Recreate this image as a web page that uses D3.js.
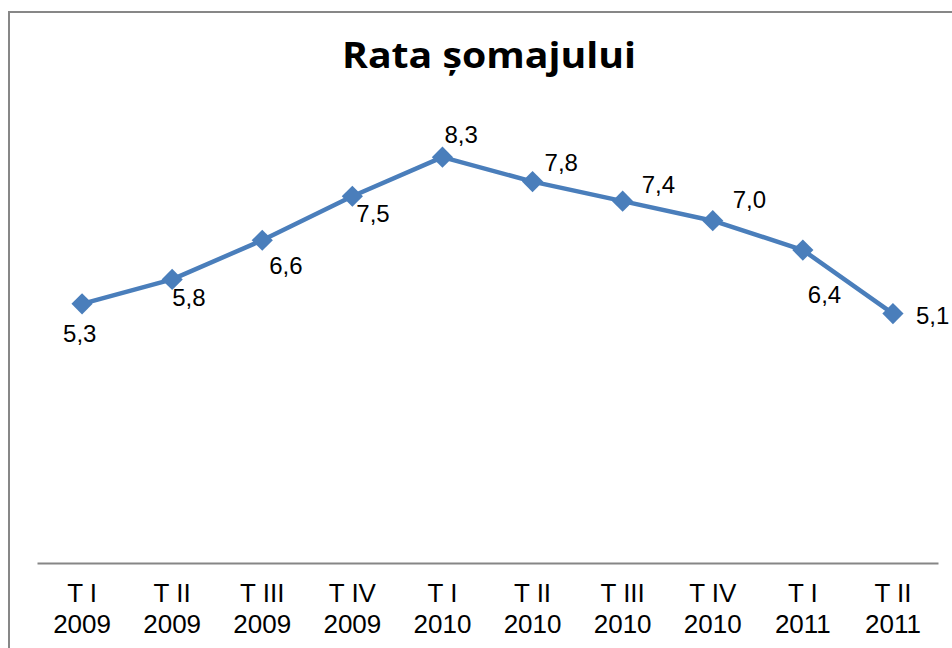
<!DOCTYPE html>
<html>
<head>
<meta charset="utf-8">
<script src="https://cdn.jsdelivr.net/npm/d3@7"></script>
<style>
  body { margin: 0; background: #fff; }
  svg { display: block; }
  .axis text { font-family: "Liberation Sans", Arial, sans-serif; font-size: 26px; fill: #000; }
  .axis .domain { stroke: #868686; stroke-width: 2; }
  .value-label { font-family: "Liberation Sans", Arial, sans-serif; font-size: 24px; fill: #000; }
  .chart-title { font-family: "Open Sans", sans-serif; font-weight: 700; font-size: 35px; fill: #000; }
</style>
</head>
<body>
<svg id="chart"></svg>
<script>
// data
const quarters = ['T I', 'T II', 'T III', 'T IV', 'T I', 'T II', 'T III', 'T IV', 'T I', 'T II'];
const years = ['2009', '2009', '2009', '2009', '2010', '2010', '2010', '2010', '2011', '2011'];
const rates = [5.3, 5.8, 6.6, 7.5, 8.3, 7.8, 7.4, 7.0, 6.4, 5.1];

// where each value label sits relative to its point (left edge, baseline)
const labelOffsets = [[-19, 38], [0, 27], [7, 34], [4, 26], [2, -14], [12, -11], [19, -8], [20, -13], [5, 53], [23, 10]];

const width = 952, height = 648;
const margin = {left: 37, right: 14, top: 74, bottom: 85};

const svg = d3.select('#chart')
    .attr('width', width)
    .attr('height', height);

// chart frame (runs off the right and bottom edge)
svg.append('rect')
    .attr('x', 9)
    .attr('y', 12)
    .attr('width', width + 20)
    .attr('height', height + 20)
    .attr('fill', 'none')
    .attr('stroke', '#878787')
    .attr('stroke-width', 2);

const keys = d3.range(rates.length);

const xScale = d3.scaleBand()
    .domain(keys)
    .range([margin.left, width - margin.right]);

const yScale = d3.scaleLinear()
    .domain([0, 10])
    .range([height - margin.bottom, margin.top]);

const xPos = i => xScale(i) + xScale.bandwidth() / 2;

// x axis with two-line labels
const xAxis = d3.axisBottom(xScale)
    .tickSize(0)
    .tickSizeOuter(0)
    .tickFormat(() => '');

const xAxisG = svg.append('g')
    .attr('class', 'axis x-axis')
    .attr('transform', `translate(0,${height - margin.bottom})`)
    .call(xAxis);

xAxisG.selectAll('.tick text').each(function(i) {
    const t = d3.select(this).attr('y', 0).attr('dy', null);
    t.append('tspan').attr('x', 0).attr('y', 39).text(quarters[i]);
    t.append('tspan').attr('x', 0).attr('y', 70).text(years[i]);
});

// title
svg.append('text')
    .attr('class', 'chart-title')
    .attr('x', 489)
    .attr('y', 68)
    .attr('text-anchor', 'middle')
    .attr('textLength', 294)
    .attr('lengthAdjust', 'spacingAndGlyphs')
    .text('Rata șomajului');

// line
const line = d3.line()
    .x((d, i) => xPos(i))
    .y(d => yScale(d));

svg.append('path')
    .datum(rates)
    .attr('fill', 'none')
    .attr('stroke', '#4A7EBB')
    .attr('stroke-width', 4.5)
    .attr('stroke-linejoin', 'round')
    .attr('d', line);

// diamond markers
const diamond = d3.symbol(d3.symbolSquare, 225);
svg.selectAll('.marker')
    .data(rates)
    .join('path')
    .attr('class', 'marker')
    .attr('d', diamond)
    .attr('fill', '#4A7EBB')
    .attr('transform', (d, i) => `translate(${xPos(i)},${yScale(d)}) rotate(45)`);

// value labels, decimal comma
const fmt = d => d3.format('.1f')(d).replace('.', ',');
svg.selectAll('.value-label')
    .data(rates)
    .join('text')
    .attr('class', 'value-label')
    .attr('x', (d, i) => xPos(i) + labelOffsets[i][0])
    .attr('y', (d, i) => yScale(d) + labelOffsets[i][1])
    .text(fmt);
</script>
</body>
</html>
